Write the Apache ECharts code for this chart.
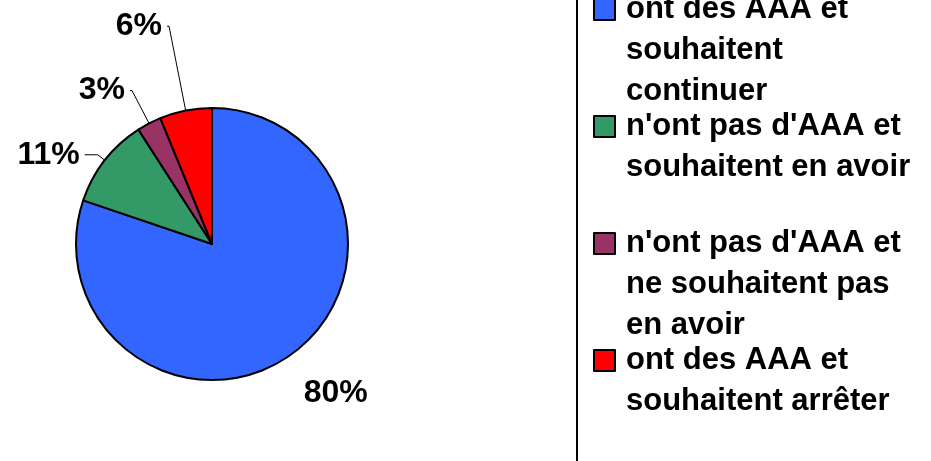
<!DOCTYPE html>
<html>
<head>
<meta charset="utf-8">
<script src="https://cdn.jsdelivr.net/npm/echarts@6/dist/echarts.min.js"></script>
<style>
html,body{margin:0;padding:0;background:#fff;}
#chart{width:931px;height:461px;}
</style>
</head>
<body>
<div id="chart"></div>
<script>
const categories = [
  "ont des AAA et\nsouhaitent\ncontinuer",
  "n'ont pas d'AAA et\nsouhaitent en avoir",
  "n'ont pas d'AAA et\nne souhaitent pas\nen avoir",
  "ont des AAA et\nsouhaitent arrêter"
];
const values = [80.2, 10.7, 2.9, 6.2];
const colors = ['#3366FF', '#339966', '#993366', '#FF0000'];
const labelLineLengths = [47, 9, 37, 86];
const labelLineLengths2 = [0, 13, 2, 2];

const chart = echarts.init(document.getElementById('chart'));
const data = categories.map((name, i) => ({
  name: name,
  value: values[i],
  itemStyle: { color: colors[i] },
  labelLine: { show: i !== 0, length: labelLineLengths[i], length2: labelLineLengths2[i] }
}));

chart.setOption({
  backgroundColor: '#ffffff',
  animation: false,
  legend: {
    orient: 'vertical',
    left: 593,
    top: -97,
    padding: 0,
    itemGap: -55,
    itemWidth: 21,
    itemHeight: 21,
    icon: 'rect',
    selectedMode: false,
    data: categories,
    formatter: function (name) {
      const n = name.split('\n').length;
      return '\n'.repeat(n - 1) + name;
    },
    textStyle: {
      fontFamily: 'Liberation Sans',
      fontWeight: 'bold',
      fontSize: 31,
      lineHeight: 41,
      color: '#000',
      padding: [8, 0, 0, 6]
    }
  },
  graphic: [{
    type: 'line',
    shape: { x1: 577, y1: 0, x2: 577, y2: 461 },
    style: { stroke: '#000', lineWidth: 2 }
  }],
  series: [{
    type: 'pie',
    center: [212, 244],
    radius: 136,
    startAngle: 90,
    clockwise: true,
    percentPrecision: 0,
    avoidLabelOverlap: false,
    data: data,
    itemStyle: { borderColor: '#000', borderWidth: 2 },
    label: {
      show: true,
      position: 'outside',
      formatter: '{d}%',
      fontFamily: 'Liberation Sans',
      fontWeight: 'bold',
      fontSize: 32,
      color: '#000',
      distanceToLabelLine: 5
    },
    labelLine: {
      lineStyle: { color: '#000', width: 1 },
      smooth: false
    },
    labelLayout: function (params) {
      if (params.dataIndex === 0) {
        return { dx: -20 };
      }
      return {};
    },
    emphasis: { disabled: true }
  }]
});
</script>
</body>
</html>
